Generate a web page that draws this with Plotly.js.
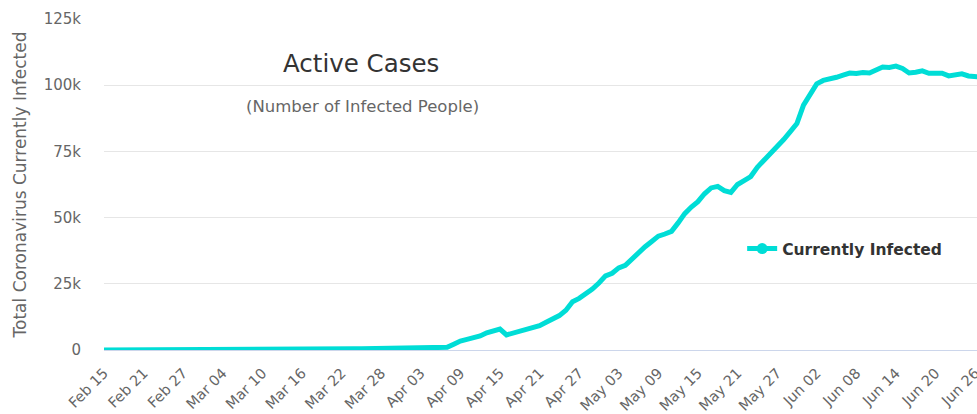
<!DOCTYPE html>
<html>
<head>
<meta charset="utf-8">
<script src="https://cdn.plot.ly/plotly-3.0.1.min.js"></script>
<style>
  html, body { margin: 0; padding: 0; background: #ffffff; }
  #chart { width: 977px; height: 414px; }
</style>
</head>
<body>
<div id="chart"></div>
<script>
// ---- Data ----
const startDate = '2020-02-15';
const seriesName = 'Currently Infected';
const activeFeb = [0,0,0,0,0,0,0,0,0,0,0,2,2,2,4];                       // Feb 15-29
const activeMar = [4,4,5,5,5,6,6,6,10,15,
                   18,20,25,30,50,120,180,230,270,300,
                   340,380,420,460,500,530,570,600,640,680,710];        // Mar 1-31
const activeApr = [740,770,800,850,900,950,1000,2200,3400,4000,
                   4600,5300,6500,7000,7900,5700,6400,7200,8000,8700,
                   9200,10500,11800,13000,15000,18200,19500,21000,23000,25300]; // Apr 1-30
const activeMay = [28000,29000,31000,32000,34500,36500,39000,41000,43000,43800,
                   44800,48000,51500,54000,56000,59000,61200,61800,60200,59500,
                   62500,64000,65500,69000,71500,74000,77000,79500,82500,85500,92500]; // May 1-31
const activeJun = [96500,100500,101800,102200,103000,103800,104600,104400,104800,104600,
                   105800,106900,106700,107200,106300,104600,104900,105400,104500,104700,
                   104500,103500,103700,104300,103500,103100,103000];    // Jun 1-27
const yTickVals = [0, 25000, 50000, 75000, 100000, 125000];
const yTickText = ['0', '25k', '50k', '75k', '100k', '125k'];

const values = [].concat(activeFeb, activeMar, activeApr, activeMay, activeJun);
const dates = values.map((v, i) => {
  const d = new Date(startDate + 'T00:00:00Z');
  d.setUTCDate(d.getUTCDate() + i);
  return d.toISOString().slice(0, 10);
});

const lineColor = '#00ddd6';
const font = 'DejaVu Sans, Verdana, sans-serif';

const traces = [
  {
    x: dates, y: values, type: 'scatter', mode: 'lines',
    line: { color: lineColor, width: 5 },
    showlegend: false, hoverinfo: 'x+y'
  },
  {
    x: [null], y: [null], type: 'scatter', mode: 'lines+markers',
    name: seriesName,
    line: { color: lineColor, width: 5 },
    marker: { color: lineColor, size: 11, symbol: 'circle' },
    showlegend: true
  }
];

const layout = {
  width: 977, height: 414,
  margin: { l: 104, r: 0, t: 19, b: 64, pad: 0 },
  paper_bgcolor: '#ffffff', plot_bgcolor: '#ffffff',
  font: { family: font, color: '#666666' },
  showlegend: true,
  legend: {
    x: 0.731, y: 0.305, xanchor: 'left', yanchor: 'middle',
    bgcolor: 'rgba(0,0,0,0)',
    font: { family: font, size: 15.5, color: '#333333', weight: 'bold' },
    itemwidth: 30
  },
  xaxis: {
    type: 'date',
    range: ['2020-02-15', '2020-06-26 07:00'],
    tick0: '2020-02-15', dtick: 6 * 86400000,
    tickformat: '%b %d', tickangle: -45,
    tickfont: { family: font, size: 14.5, color: '#666666' },
    ticklabelstandoff: 8,
    ticklabeloverflow: 'allow',
    showgrid: false, zeroline: false,
    showline: true, linecolor: '#ccd6eb', linewidth: 1,
    ticks: '', fixedrange: true
  },
  yaxis: {
    range: [0, 125000],
    tickvals: yTickVals, ticktext: yTickText,
    tickfont: { family: font, size: 15, color: '#666666' },
    ticklabelstandoff: 22,
    showgrid: true, gridcolor: '#e6e6e6', gridwidth: 1,
    zeroline: false, showline: false, ticks: '',
    title: { text: 'Total Coronavirus Currently Infected', standoff: 12,
             font: { family: font, size: 17, color: '#666666' } },
    fixedrange: true
  },
  shapes: [
    { type: 'rect', xref: 'paper', yref: 'paper', layer: 'between',
      x0: (222 - 104) / 873, x1: (503 - 104) / 873,
      y0: (350 - 145) / 331, y1: (350 - 28) / 331,
      fillcolor: '#ffffff', line: { width: 0 } }
  ],
  annotations: [
    { text: 'Active Cases', xref: 'paper', yref: 'paper',
      x: (361 - 104) / 873, y: (350 - 63) / 331, xanchor: 'center', yanchor: 'middle',
      showarrow: false, font: { family: font, size: 24.5, color: '#333333' } },
    { text: '(Number of Infected People)', xref: 'paper', yref: 'paper',
      x: (362 - 104) / 873, y: (350 - 106) / 331, xanchor: 'center', yanchor: 'middle',
      showarrow: false, font: { family: font, size: 16.5, color: '#666666' } }
  ]
};

Plotly.newPlot('chart', traces, layout, { displayModeBar: false, staticPlot: true });
</script>
</body>
</html>
